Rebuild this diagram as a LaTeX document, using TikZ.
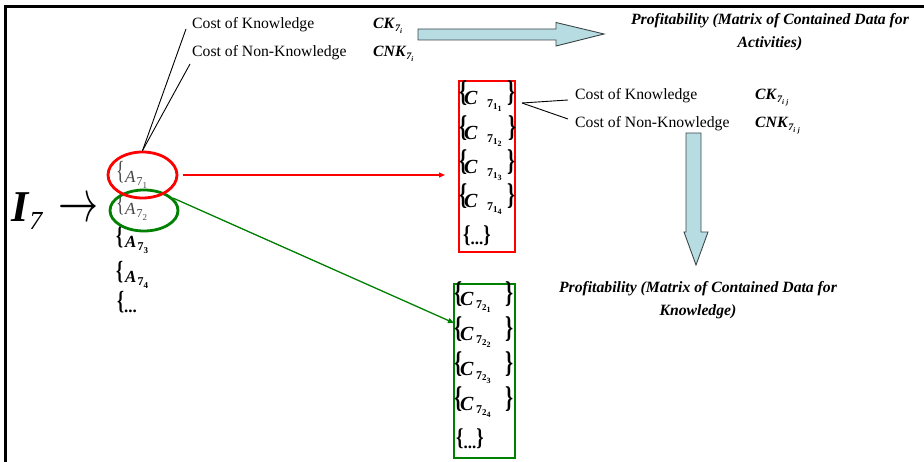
\documentclass[tikz,border=0pt]{standalone}
\usepackage{fontspec}
\usepackage{graphicx}
\setmainfont{Liberation Serif}
\usetikzlibrary{arrows.meta,shapes.geometric}

\definecolor{fatfill}{RGB}{183,221,226}
\definecolor{fatedge}{RGB}{60,70,72}
\definecolor{linkred}{RGB}{255,0,0}
\definecolor{linkgreen}{RGB}{0,128,0}
\definecolor{softgray}{RGB}{70,70,70}

% font size helper and lowered subscript helper
\newcommand\fs[1]{\fontsize{#1}{#1}\selectfont}
\newcommand\dropby[2]{\raisebox{-#1}{#2}}
% tall narrow braces
\newcommand\lbr[1]{\raisebox{3pt}{\scalebox{0.85}[1.25]{\fs{#1}\{}}}
\newcommand\rbr[1]{\raisebox{3pt}{\scalebox{0.85}[1.25]{\fs{#1}\}}}}

% cost symbol such as CK_{7_i}
\newcommand\costsym[2]{{\bfseries\itshape #1}\hspace{1pt}\dropby{3pt}{\fs{10}\bfseries\itshape 7\dropby{2pt}{\fs{7}#2}}}

% activity entry {A_{7_k}
\newcommand\Aent[1]{\rlap{\lbr{21}}\hspace{9pt}{\fs{17}\itshape A}\hspace{1pt}\dropby{3pt}{\fs{12}7\dropby{2.5pt}{\fs{9}#1}}}

% data entry {C_{7_{a_b}} }: subs a,b; offsets for C, subscript and right brace
\newcommand\Cent[5]{\rlap{\lbr{24}}\hspace{#3}\rlap{\fs{20}\itshape C}\hspace{#4}\rlap{\dropby{3pt}{\fs{12}7\dropby{2pt}{\fs{9}#1\dropby{2pt}{\fs{8}#2}}}}\hspace{#5}\rbr{24}}

% closing entry {...}
\newcommand\Dots{\raisebox{2pt}{\scalebox{0.85}[1.1]{\fs{22}\{}}{\fs{17}...}\raisebox{2pt}{\scalebox{0.85}[1.1]{\fs{22}\}}}}

\tikzset{
  label/.style={anchor=base west, inner sep=0, font=\fs{15.7}},
  title/.style={anchor=base, inner sep=0, font=\fs{15.7}\bfseries\itshape},
  entry/.style={anchor=base west, inner sep=0, font=\bfseries},
  aentry/.style={anchor=base west, inner sep=0},
  fatarrow/.style={draw=fatedge, fill=fatfill, line width=0.9pt, line join=miter},
  tie/.style={draw=black, line width=0.9pt},
  ring/.style={ellipse, draw, line width=2.8pt, inner sep=0},
  frame/.style={line width=3pt, line cap=rect},
}

\begin{document}
\begin{tikzpicture}[x=1pt, y=-1pt]
\useasboundingbox (0,0) rectangle (924,462);

% outer frame (top and left edges)
\draw[frame] (5,462) -- (5,7) -- (924,7);

% input I_7 and its arrow
\node[anchor=base west, inner sep=0, font=\fs{44}\bfseries\itshape] (I7) at (11,222) {I\hspace{1pt}\dropby{8pt}{\fs{26}\mdseries 7}};
\node[inner sep=0] (inarrow) at (78,210) {\resizebox{40pt}{22pt}{$\rightarrow$}};

% activity entries
\node[aentry, text=softgray] (A1) at (116,183) {\Aent{1}};
\node[aentry, text=softgray] (A2) at (116,215) {\Aent{2}};
\node[aentry, font=\bfseries] (A3) at (116,248) {\Aent{3}};
\node[aentry, font=\bfseries] (A4) at (116,283) {\Aent{4}};
\node[aentry, font=\bfseries] (A5) at (117,313) {\lbr{21}{\fs{17}...}};

% rings around the first two activities
\node[ring, draw=linkgreen, minimum width=68, minimum height=41] (ringB) at (144,210.5) {};
\node[ring, draw=linkred, minimum width=69, minimum height=46] (ringA) at (142.5,175) {};

% costs of the activity
\node[label] (ck1) at (192,28.5) {Cost of Knowledge};
\node[label] (cnk1) at (192,56.5) {Cost of Non-Knowledge};
\node[anchor=base west, inner sep=0, font=\fs{15.7}] (cks1) at (373,29) {\costsym{CK}{i}};
\node[anchor=base west, inner sep=0, font=\fs{15.7}] (cnks1) at (373,57) {\costsym{CNK}{i}};
\coordinate (ckend) at (186,29);
\coordinate (cnkend) at (190,64);
\draw[tie] (ringA.north) -- (ckend);
\draw[tie] (ringA.north) -- (cnkend);

% fat arrow to the first profitability matrix
\draw[fatarrow] (418,29) -- (556,29) -- (556,22.5) -- (604,34) -- (556,46) -- (556,40) -- (418,40) -- cycle;
\node[title] (prof1a) at (770,25) {Profitability (Matrix of Contained Data for};
\node[title] (prof1b) at (770,48) {Activities)};

% data boxes
\node[draw=linkred, line width=1.5pt, minimum width=56, minimum height=171, inner sep=0] (rbox) at (487,166.5) {};
\node[draw=linkgreen, line width=1.5pt, minimum width=61, minimum height=174, inner sep=0] (gbox) at (484.5,371) {};

% entries of the red box
\node[entry] (c11) at (459,105) {\Cent{1}{1}{5pt}{23pt}{20pt}};
\node[entry] (c12) at (459,140) {\Cent{1}{2}{5pt}{23pt}{21pt}};
\node[entry] (c13) at (459,174) {\Cent{1}{3}{5pt}{23pt}{20pt}};
\node[entry] (c14) at (459,208) {\Cent{1}{4}{5pt}{23pt}{20pt}};
\node[entry] (c15) at (463,245) {\Dots};

% entries of the green box
\node[entry] (c21) at (454,306) {\Cent{2}{1}{6pt}{16pt}{29pt}};
\node[entry] (c22) at (454,341) {\Cent{2}{2}{6pt}{16pt}{29pt}};
\node[entry] (c23) at (454,376) {\Cent{2}{3}{6pt}{16pt}{29pt}};
\node[entry] (c24) at (454,410) {\Cent{2}{4}{6pt}{16pt}{29pt}};
\node[entry] (c25) at (456,448) {\Dots};

% links from the rings to the boxes
\coordinate (redend) at (445,175);
\coordinate (greenend) at (454,323);
\draw[draw=linkred, line width=1.3pt, -{Triangle[length=6pt,width=5pt]}, shorten <=5pt] (ringA.east) -- (redend);
\draw[draw=linkgreen, line width=1.3pt, -{Triangle[length=6pt,width=5pt]}] (ringB.23) -- (greenend);

% costs of the data
\coordinate (cfork) at (522,103);
\coordinate (ck2end) at (568,100);
\coordinate (cnk2end) at (568,119);
\draw[tie] (cfork) -- (ck2end);
\draw[tie] (cfork) -- (cnk2end);
\node[label] (ck2) at (575,100) {Cost of Knowledge};
\node[label] (cnk2) at (575,128) {Cost of Non-Knowledge};
\node[anchor=base west, inner sep=0, font=\fs{15.7}] (cks2) at (755,100) {\costsym{CK}{i\,\,j}};
\node[anchor=base west, inner sep=0, font=\fs{15.7}] (cnks2) at (755,128) {\costsym{CNK}{i\,\,j}};

% fat arrow down to the second profitability matrix
\draw[fatarrow] (686,133) -- (701,133) -- (701,232) -- (708,232) -- (696,265) -- (684,232) -- (686,232) -- cycle;
\node[title] (prof2a) at (698,293) {Profitability (Matrix of Contained Data for};
\node[title] (prof2b) at (698,316) {Knowledge)};
\end{tikzpicture}
\end{document}
